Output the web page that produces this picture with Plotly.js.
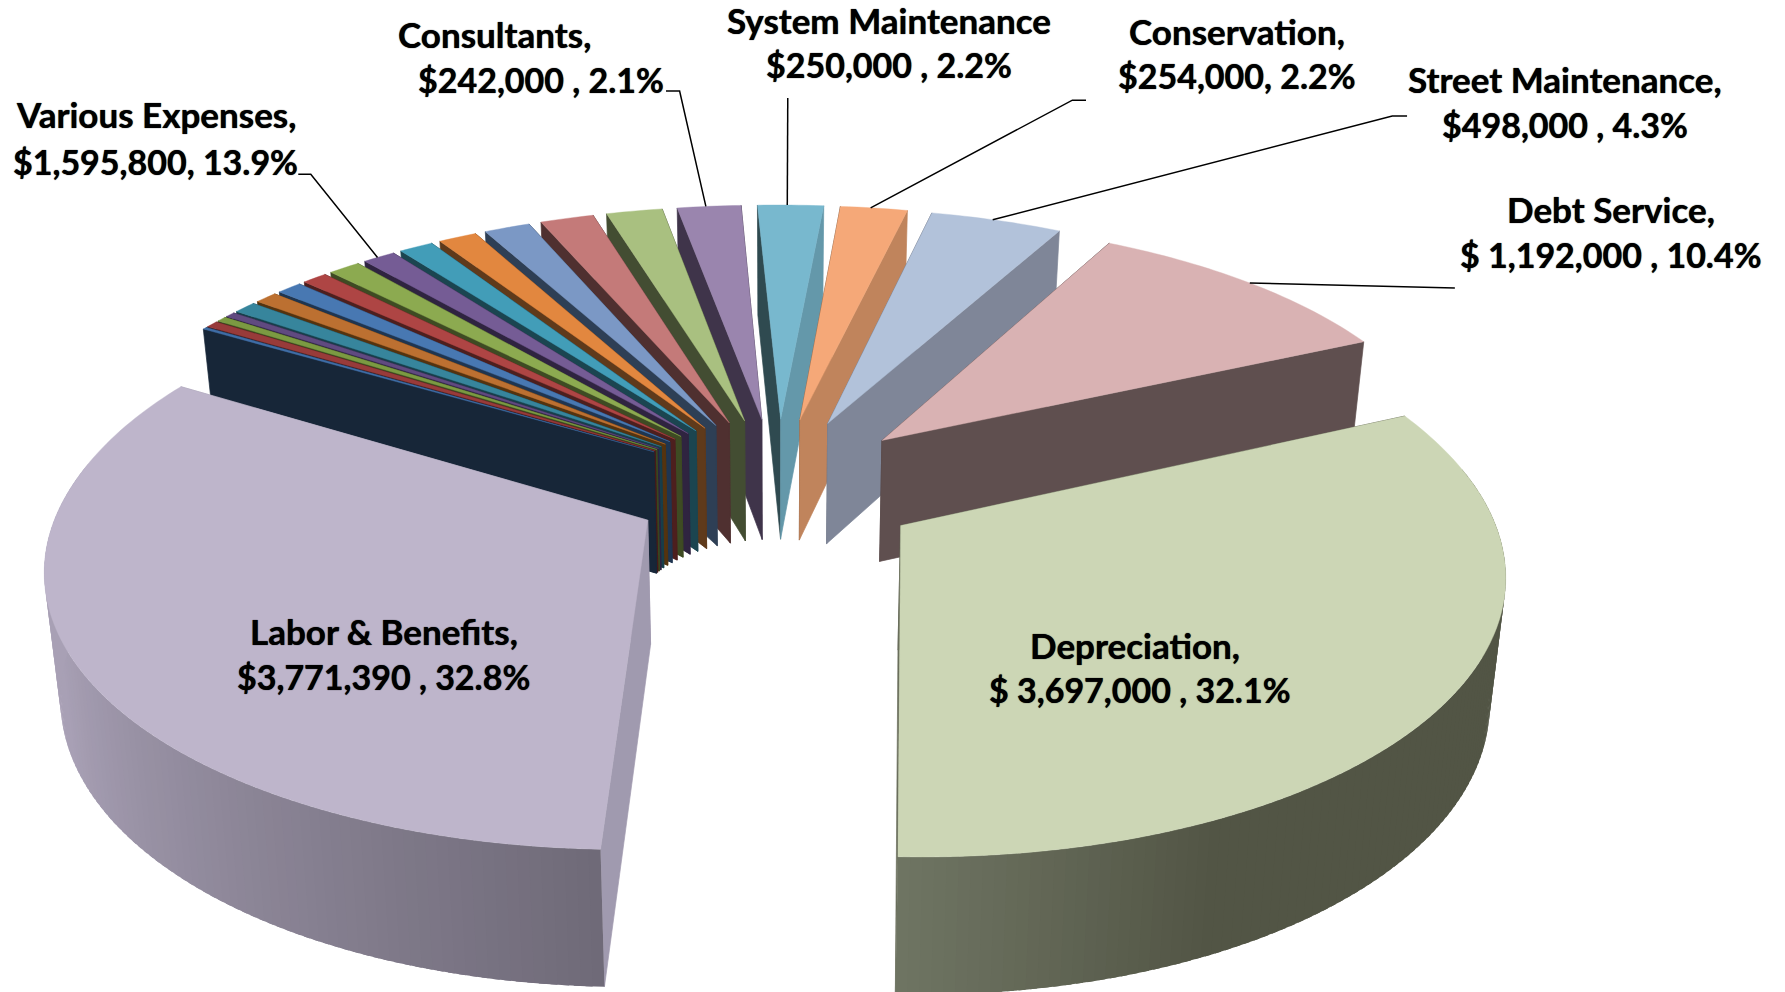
<!DOCTYPE html>
<html>
<head>
<meta charset="utf-8">
<script src="https://cdn.plot.ly/plotly-3.0.1.min.js"></script>
<style>html,body{margin:0;padding:0;background:#fff}#chart{width:1785px;height:992px}</style>
</head>
<body>
<div id="chart"></div>
<script>
// Budget expenses, clockwise from the Labor slice. The unnamed slices make up "Various Expenses".
const categories = ['Labor & Benefits','Various 1','Various 2','Various 3','Various 4','Various 5','Various 6','Various 7','Various 8','Various 9','Various 10','Various 11','Various 12','Various 13','Various 14','Various 15','Consultants','System Maintenance','Conservation','Street Maintenance','Debt Service','Depreciation'];
const amounts = [3771390,16000,45000,36000,36000,84000,84000,94000,94000,120000,123000,129000,145000,174000,203000,212800,242000,250000,254000,498000,1192000,3697000];

// Face colours, one per slice
const topColors = ['#BEB5CB','#3F6DA6','#983B3A','#7B9A42','#604A80','#37859C','#BC7031','#4878B2','#AE4544','#8CAA50','#755C95','#429DB8','#E2873F','#7B98C5','#C47A79','#A9C080','#9A85AE','#78B8CE','#F5A878','#B2C2DA','#D9B2B3','#CCD6B5'];
const startSide = ['#A09AAF','#172638','#461A1A','#39471F','#2C2240','#173E4A','#54330F','#1F3550','#4D1F1E','#3E4B23','#2F2440','#1B4550','#5F3A1B','#2E3F55','#4F3030','#434D32','#3F344A','#2F4A50','#6A4A33','#5A6070','#4A3C3C','#525545'];
const endSide = ['#A09AAF','#172638','#461A1A','#39471F','#2C2240','#173E4A','#54330F','#1F3550','#4D1F1E','#3E4B23','#2F2440','#1B4550','#5F3A1B','#2E3F55','#4F3030','#434D32','#3F344A','#6498AA','#C0845C','#7F8698','#5F4F4F','#6A6F5C'];

// Label text, one entry per printed line
const labelLines = ['Various Expenses,','$1,595,800, 13.9%','Consultants,','$242,000 , 2.1%','System Maintenance','$250,000 , 2.2%','Conservation,','$254,000, 2.2%','Street Maintenance,','$498,000 , 4.3%','Debt Service,','$ 1,192,000 , 10.4%','Labor & Benefits,','$3,771,390 , 32.8%','Depreciation,','$ 3,697,000 , 32.1%'];
const labelX = [137,137,434,475,781,781,1087,1087,1375,1375,1415,1415,337,337,997,1001];
const labelY = [100.5,141.5,29.5,69.5,17.5,56.5,27.5,66.5,69.5,109.5,183.5,223.5,554.5,594.5,566.5,605.5];

// Projection of the tilted pie onto the page
const SCALE = 1785 / 1568;
const view = {cx: 683 * SCALE, cy: 427.6 * SCALE, ax: 512 * SCALE, ayNear: 238 * SCALE, ayFar: 250 * SCALE,
              depth: 108 * SCALE, pxNear: 0.147, pxFar: 0.16, pyNear: 0.145, pyFar: 0.21, depthPow: 0.62,
              shear: 2 * SCALE, shrink: 0.022, explode: 0.25, start: 182};
const rad = d => d * Math.PI / 180;

function project(X, Y) {
  const wx = 1 + (Y < 0 ? view.pxNear : view.pxFar) * Y;
  const wy = 1 + (Y < 0 ? view.pyNear : view.pyFar) * Y;
  return {x: view.cx + view.ax * X / wx - view.shear * Math.max(0, Y),
          y: view.cy - (Y < 0 ? view.ayNear : view.ayFar) * Y / wy, w: wx};
}
function dropDown(p) {
  return {x: view.cx + (p.x - view.cx) * (1 - view.shrink), y: p.y + view.depth / Math.pow(p.w, view.depthPow)};
}

const total = amounts.reduce((a, b) => a + b, 0);
let cursor = view.start;
const wedges = amounts.map((v, i) => {
  const a0 = cursor, a1 = cursor + v / total * 360;
  cursor = a1;
  const mid = (a0 + a1) / 2;
  return {i, a0, a1, mid, ox: view.explode * Math.sin(rad(mid)), oy: view.explode * Math.cos(rad(mid))};
});
const rimPoint = (w, a) => project(w.ox + Math.sin(rad(a)), w.oy + Math.cos(rad(a)));
const apexPoint = w => project(w.ox, w.oy);

function poly(points, color, lw) {
  const t = {type: 'scatter', x: points.map(p => p.x), y: points.map(p => p.y),
             fill: 'toself', fillcolor: color, hoverinfo: 'skip', showlegend: false};
  if (lw === 0) { t.mode = 'none'; }
  else { t.mode = 'lines'; t.line = {color, width: lw === undefined ? 0.7 : lw, simplify: false}; }
  return t;
}
function mix(c0, c1, t) {
  const h = c => [1, 3, 5].map(k => parseInt(c.substr(k, 2), 16));
  const a = h(c0), b = h(c1);
  return 'rgb(' + a.map((v, k) => Math.round(v + (b[k] - v) * t)).join(',') + ')';
}
// Outer wall shading of the two large front slices
function wallColor(i, a) {
  if (i === 0) return mix('#6F6A78', '#A8A0B5', Math.min(1, Math.max(0, (a - 182) / 65)));
  return mix('#525545', '#6F7563', Math.min(1, Math.max(0, (a - 515) / 27)));
}

const traces = [];
const drawOrder = wedges.slice().sort((p, q) => Math.cos(rad(q.mid)) - Math.cos(rad(p.mid)));
for (const w of drawOrder) {
  const apex = apexPoint(w), apexLow = dropDown(apex);
  const p0 = rimPoint(w, w.a0), p1 = rimPoint(w, w.a1);
  const startFace = poly([apex, p0, dropDown(p0), apexLow, apex], startSide[w.i]);
  const endFace = poly([apex, p1, dropDown(p1), apexLow, apex], endSide[w.i]);
  if (Math.sin(rad(w.mid)) < 0) traces.push(endFace, startFace); else traces.push(startFace, endFace);

  // Outer wall, only where it turns toward the viewer; each strip overlaps the next to hide seams
  const span = w.a1 - w.a0;
  const steps = Math.max(2, Math.ceil(span));
  for (let s = 0; s < steps; s++) {
    const b0 = w.a0 + span * s / steps, b1 = w.a0 + span * (s + 1) / steps;
    if (Math.cos(rad((b0 + b1) / 2)) > 0.2) continue;
    const b2 = Math.min(w.a1, b1 + 0.6);
    const q0 = rimPoint(w, b0), q1 = rimPoint(w, b2);
    traces.push(poly([q0, q1, dropDown(q1), dropDown(q0), q0], wallColor(w.i, (b0 + b1) / 2), 0));
  }

  const top = [apex];
  for (let s = 0; s <= steps; s++) top.push(rimPoint(w, w.a0 + span * s / steps));
  top.push(apex);
  traces.push(poly(top, topColors[w.i], 0.4));
}

// Leader lines run from a label elbow to the rim of the slice they name
function leader(sliceIndex, frac, elbows) {
  const w = wedges[sliceIndex];
  const end = rimPoint(w, w.a0 + (w.a1 - w.a0) * frac);
  const pts = elbows.map(e => ({x: e[0] * SCALE, y: e[1] * SCALE})).concat([end]);
  traces.push({type: 'scatter', mode: 'lines', x: pts.map(p => p.x), y: pts.map(p => p.y),
               line: {color: '#000', width: 1.5}, hoverinfo: 'skip', showlegend: false});
}
leader(10, 0.45, [[262, 153], [273, 153]]);
leader(16, 0.45, [[585, 80], [597, 80]]);
leader(17, 0.45, [[692, 86]]);
leader(18, 0.45, [[954, 88], [942, 88]]);
leader(19, 0.47, [[1236, 102], [1223, 102]]);
leader(20, 0.5, [[1278, 253]]);

const annotations = labelLines.map((t, k) => ({
  text: '<b>' + t.replace(/&/g, '&amp;') + '</b>', x: labelX[k] * SCALE, y: labelY[k] * SCALE,
  xref: 'x', yref: 'y', showarrow: false, xanchor: 'center', yanchor: 'middle',
  font: {family: 'Lato, "Open Sans", sans-serif', size: k % 2 ? 34 : 35, color: '#000', shadow: '0 0 1px #000'}
}));

Plotly.newPlot('chart', traces, {
  width: 1785, height: 992, margin: {l: 0, r: 0, t: 0, b: 0},
  paper_bgcolor: '#fff', plot_bgcolor: '#fff', showlegend: false, annotations,
  xaxis: {range: [0, 1785], visible: false, fixedrange: true},
  yaxis: {range: [992, 0], visible: false, fixedrange: true}
}, {displayModeBar: false, responsive: false});
</script>
</body>
</html>
